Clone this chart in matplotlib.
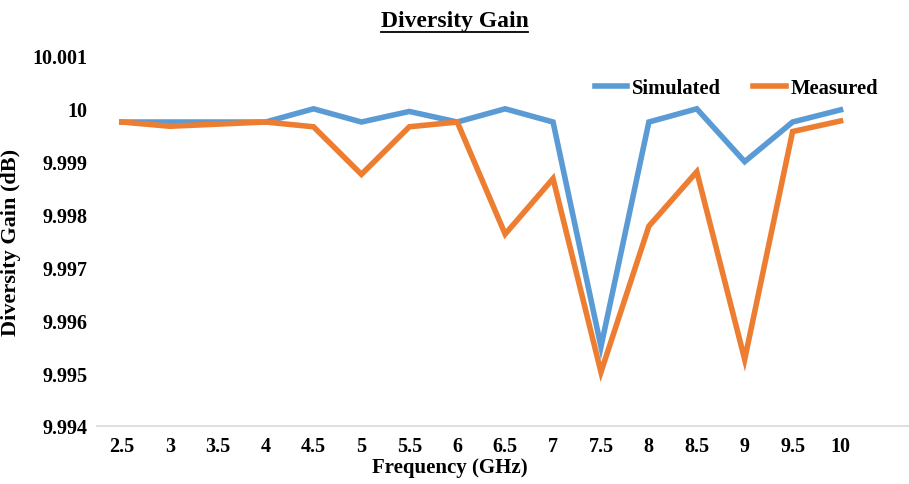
import numpy as np
import matplotlib
matplotlib.use("Agg")
import matplotlib.pyplot as plt
from matplotlib.lines import Line2D

freqs = ["2.5", "3", "3.5", "4", "4.5", "5", "5.5", "6",
         "6.5", "7", "7.5", "8", "8.5", "9", "9.5", "10"]
simulated = [9.99975, 9.99975, 9.99975, 9.99975, 10.0, 9.99975, 9.99995, 9.99975,
             10.0, 9.99975, 9.99550, 9.99975, 10.0, 9.99900, 9.99975, 9.99998]
measured = [9.99975, 9.99967, 9.99971, 9.99975, 9.99966, 9.99876, 9.99966, 9.99975,
            9.99763, 9.99868, 9.99502, 9.99778, 9.99881, 9.99526, 9.99957, 9.99977]

plt.rcParams["font.family"] = "Liberation Serif"
plt.rcParams["font.weight"] = "bold"

fig = plt.figure(figsize=(9.09, 4.85), dpi=100)
ax = fig.add_axes([0.1067, 0.1196, 0.8933, 0.763])

x = np.arange(len(freqs))
ax.plot(x, simulated, color="#5B9BD5", lw=4, label="Simulated", solid_joinstyle="miter")
ax.plot(x, measured, color="#ED7D31", lw=4, label="Measured", solid_joinstyle="miter")

ax.set_xlim(-0.52, 16.43)
ax.set_ylim(9.994, 10.001)
ax.set_yticks(np.arange(9.994, 10.0011, 0.001))
ax.set_yticklabels(["9.994", "9.995", "9.996", "9.997", "9.998", "9.999", "10", "10.001"])
ax.set_xticks(x)
ax.set_xticklabels(freqs)
ax.tick_params(length=0, labelsize=14.5, pad=7)
for lbl in ax.get_xticklabels() + ax.get_yticklabels():
    lbl.set_fontweight("bold")

for side in ["top", "right", "left"]:
    ax.spines[side].set_visible(False)
ax.spines["bottom"].set_color("#D9D9D9")
ax.spines["bottom"].set_linewidth(1.2)

ax.set_ylabel("Diversity Gain (dB)", fontsize=16, fontweight="bold", labelpad=8)
fig.text(0.495, 0.035, "Frequency (GHz)", ha="center", va="center",
         fontsize=15, fontweight="bold")

leg = ax.legend(loc="upper left", bbox_to_anchor=(0.59, 0.99), ncol=2, frameon=False,
                fontsize=14.8, handlelength=1.6, handletextpad=0.2, columnspacing=1.6)
for t in leg.get_texts():
    t.set_fontweight("bold")

title = fig.text(0.5, 0.955, "Diversity Gain", ha="center", va="center",
                 fontsize=17, fontweight="bold")

# underline the title
fig.canvas.draw()
bb = title.get_window_extent().transformed(fig.transFigure.inverted())
fig.add_artist(Line2D([bb.x0, bb.x1], [bb.y0 - 0.002, bb.y0 - 0.002],
                      transform=fig.transFigure, color="black", lw=1.3))

fig.savefig("out.png", dpi=100)
